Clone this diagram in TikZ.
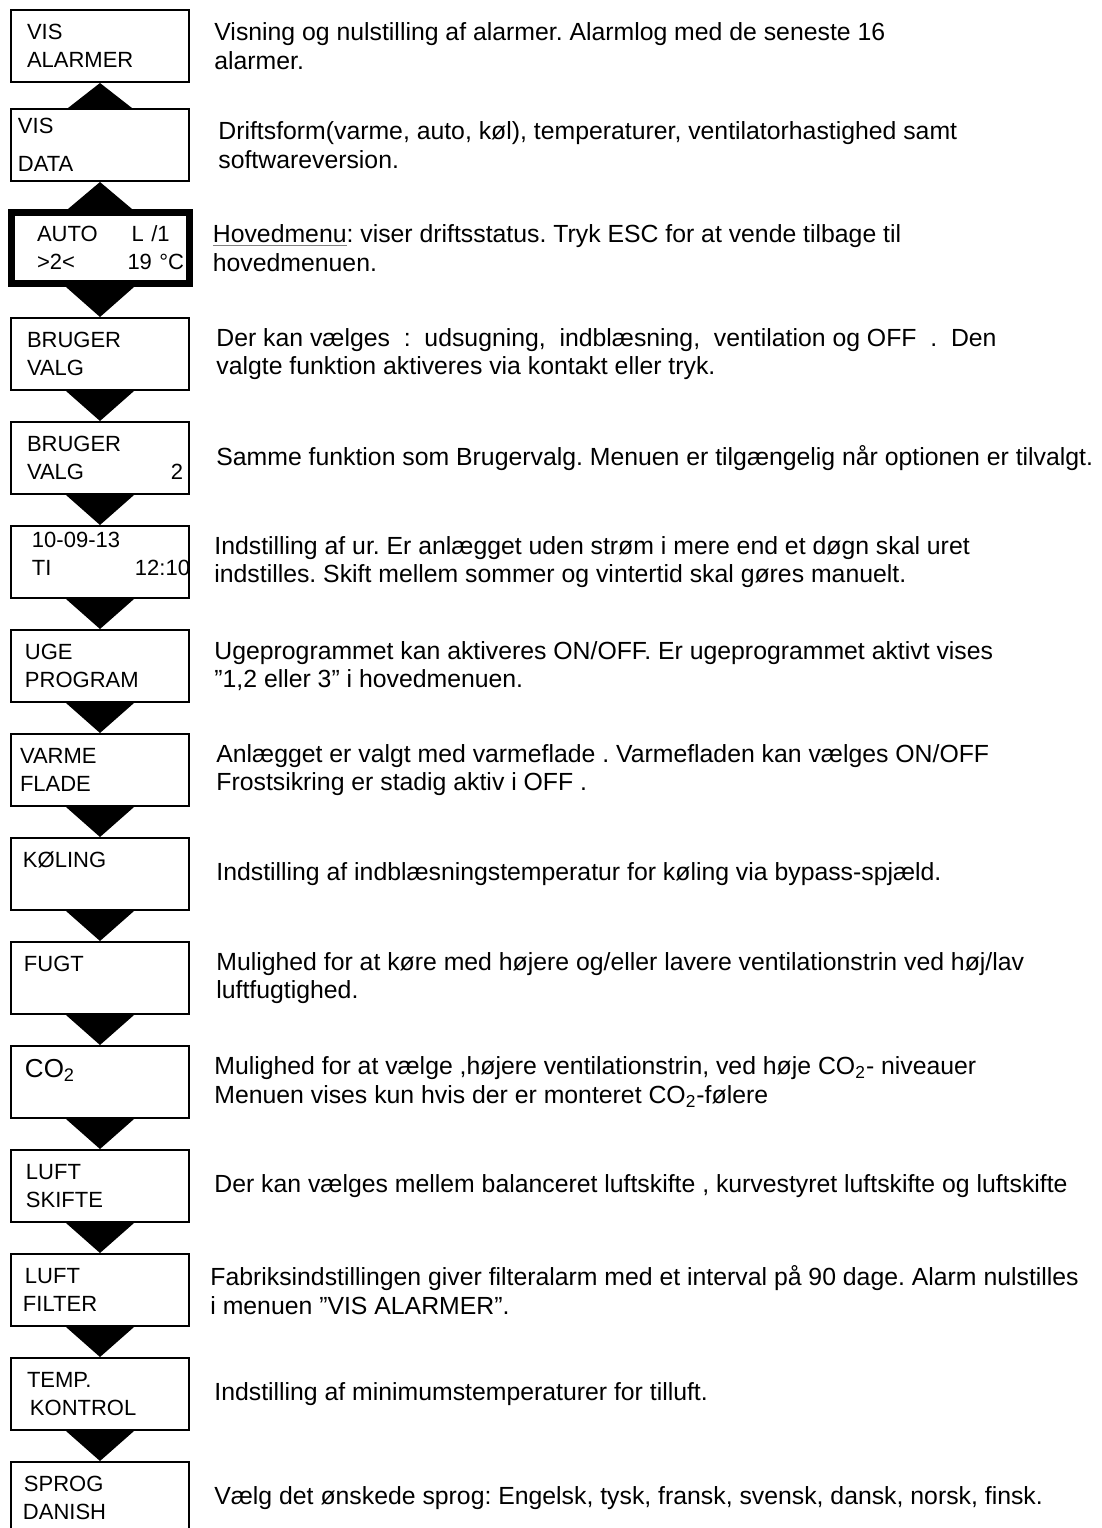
\documentclass[tikz,border=0pt]{standalone}
\usepackage{fontspec}
\setmainfont{Liberation Sans}
\usepackage{xcolor}
\usetikzlibrary{positioning,calc}
\frenchspacing
\tikzset{
  menu/.style={draw, line width=1pt, minimum width=89pt, minimum height=36pt,
               text width=77pt, inner xsep=6pt, inner ysep=0pt, align=left,
               font=\fontsize{11}{14}\selectfont},
  mainmenu/.style={menu, line width=3.5pt, minimum height=35.5pt},
  desc/.style={align=left, inner sep=0pt, font=\fontsize{12.4}{14.25}\selectfont},
  pil/.style={fill=black},
}
\newcommand{\grayul}[1]{{\color{gray}\underline{\textcolor{black}{#1}}}}
\newcommand{\flushval}[2][0pt]{\hfill\makebox[0pt][r]{#2\kern-#1}}

\begin{document}
\begin{tikzpicture}[x=0.5pt, y=-0.5pt, node distance=15pt]
  \useasboundingbox (0,0) rectangle (1102,1528);
  % menu boxes
  \node[menu, anchor=north west] (alarm) at (10,9)
    {\hspace*{2pt}VIS\\\hspace*{2pt}ALARMER};
  \node[menu, below=12.5pt of alarm] (data)
    {\hspace*{-2.5pt}VIS\\[5pt]\hspace*{-2.5pt}DATA};
  \node[mainmenu, below=13.5pt of data] (auto)
    {\hspace*{7pt}AUTO\hspace{17pt}L /1\\\hspace*{7pt}>2<\flushval[3.5pt]{19 °C}};
  \node[menu, below=of auto] (bruger)
    {\hspace*{2pt}BRUGER\\\hspace*{2pt}VALG};
  \node[menu, below=of bruger] (bruger2)
    {\hspace*{2pt}BRUGER\\\hspace*{2pt}VALG\flushval[3pt]{2}};
  \node[menu, below=of bruger2] (ur)
    {\hspace*{4.5pt}10-09-13\\\hspace*{4.5pt}TI\flushval[6.5pt]{12:10}\\[-6pt]~};
  \node[menu, below=of ur] (uge) {\hspace*{1pt}UGE\\\hspace*{1pt}PROGRAM};
  \node[menu, below=of uge] (varme) {\hspace*{-1.5pt}VARME\\\hspace*{-1.5pt}FLADE};
  \node[menu, below=of varme] (koel) {KØLING\\~};
  \node[menu, below=of koel] (fugt) {\hspace*{0.5pt}FUGT\\~};
  \node[menu, below=of fugt] (co2)
    {\hspace*{1pt}{\fontsize{13}{14}\selectfont CO\textsubscript{2}}\\~};
  \node[menu, below=of co2] (skifte)
    {\hspace*{1.5pt}LUFT\\\hspace*{1.5pt}SKIFTE};
  \node[menu, below=of skifte] (filter) {\hspace*{1pt}LUFT\\FILTER};
  \node[menu, below=of filter] (temp)
    {\hspace*{2pt}TEMP.\\\hspace*{3.5pt}KONTROL};
  \node[menu, below=of temp] (sprog) {\hspace*{0.5pt}SPROG\\DANISH};
  % descriptions
  \node[desc, right=12pt of alarm] (alarmtxt)
    {Visning og nulstilling af alarmer. Alarmlog med de seneste 16\\alarmer.};
  \node[desc, right=14pt of data] (datatxt)
    {Driftsform(varme, auto, køl), temperaturer, ventilatorhastighed samt\\softwareversion.};
  \node[desc, right=10pt of auto] (autotxt)
    {\grayul{Hovedmenu}: viser driftsstatus. Tryk ESC for at vende tilbage til\\hovedmenuen.};
  \node[desc, right=13pt of bruger] (brugertxt)
    {Der kan vælges\ \ :\ \ udsugning,\ \ indblæsning,\ \ ventilation og OFF\ \ .\ \ Den\\valgte funktion aktiveres via kontakt eller tryk.};
  \node[desc, right=13pt of bruger2] (bruger2txt)
    {Samme funktion som Brugervalg. Menuen er tilgængelig når optionen er tilvalgt.};
  \node[desc, right=12pt of ur] (urtxt)
    {Indstilling af ur. Er anlægget uden strøm i mere end et døgn skal uret\\indstilles. Skift mellem sommer og vintertid skal gøres manuelt.};
  \node[desc, right=12pt of uge] (ugetxt)
    {Ugeprogrammet kan aktiveres ON/OFF. Er ugeprogrammet aktivt vises\\”1,2 eller 3” i hovedmenuen.};
  \node[desc, right=13pt of varme] (varmetxt)
    {Anlægget er valgt med varmeflade . Varmefladen kan vælges ON/OFF\\Frostsikring er stadig aktiv i OFF .};
  \node[desc, right=13pt of koel] (koeltxt)
    {Indstilling af indblæsningstemperatur for køling via bypass-spjæld.};
  \node[desc, right=13pt of fugt] (fugttxt)
    {Mulighed for at køre med højere og/eller lavere ventilationstrin ved høj/lav\\luftfugtighed.};
  \node[desc, right=12pt of co2] (co2txt)
    {Mulighed for at vælge ,højere ventilationstrin, ved høje CO\textsubscript{2}- niveauer\\Menuen vises kun hvis der er monteret CO\textsubscript{2}-følere};
  \node[desc, right=12pt of skifte] (skiftetxt)
    {Der kan vælges mellem balanceret luftskifte , kurvestyret luftskifte og luftskifte};
  \node[desc, right=10pt of filter] (filtertxt)
    {Fabriksindstillingen giver filteralarm med et interval på 90 dage. Alarm nulstilles\\i menuen ”VIS ALARMER”.};
  \node[desc, right=12pt of temp] (temptxt)
    {Indstilling af minimumstemperaturer for tilluft.};
  \node[desc, right=12pt of sprog] (sprogtxt)
    {Vælg det ønskede sprog: Engelsk, tysk, fransk, svensk, dansk, norsk, finsk.};
  % arrows up
  \foreach \a/\b in {alarm/data, data/auto}
    \fill[pil] (\a.south) -- ($(\b.north)+(-16pt,0)$) -- ($(\b.north)+(16pt,0)$) -- cycle;
  % arrows down
  \foreach \a/\b in {auto/bruger, bruger/bruger2, bruger2/ur, ur/uge, uge/varme,
                     varme/koel, koel/fugt, fugt/co2, co2/skifte, skifte/filter,
                     filter/temp, temp/sprog}
    \fill[pil] ($(\a.south)+(-17pt,0)$) -- ($(\a.south)+(17pt,0)$) -- (\b.north) -- cycle;
\end{tikzpicture}
\end{document}
